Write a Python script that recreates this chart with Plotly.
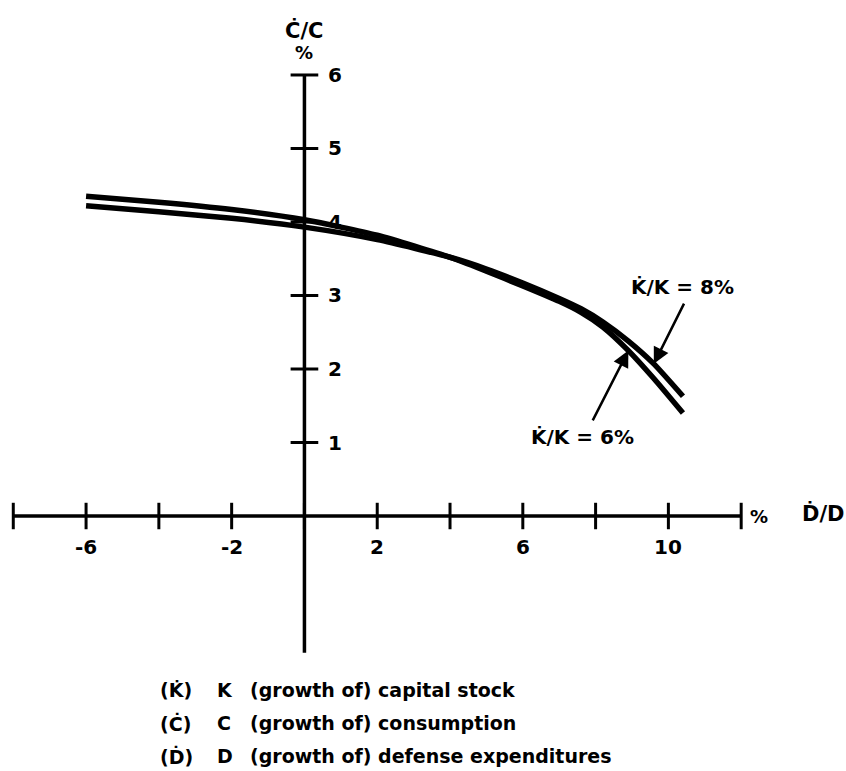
import plotly.graph_objects as go

# Growth of consumption vs. growth of defense expenditures, two capital-growth cases
d_growth = [-6, -4, -2, 0, 2, 4, 5, 6, 7, 7.6, 8.2, 8.9, 9.6, 10.4]
c_growth_k6 = [4.35, 4.27, 4.17, 4.03, 3.82, 3.52, 3.33, 3.13, 2.92, 2.77, 2.57, 2.25, 1.87, 1.40]
c_growth_k8 = [4.22, 4.14, 4.05, 3.93, 3.76, 3.52, 3.36, 3.17, 2.96, 2.82, 2.64, 2.38, 2.07, 1.63]

x_ticks = [-8, -6, -4, -2, 0, 2, 4, 6, 8, 10, 12]
x_tick_labels = {-6: "-6", -2: "-2", 2: "2", 6: "6", 10: "10"}
y_ticks = [1, 2, 3, 4, 5, 6]

legend_rows = [
    ("(K\u0307)", "K", "(growth of) capital stock"),
    ("(\u010a)", "C", "(growth of) consumption"),
    ("(\u1e0a)", "D", "(growth of) defense expenditures"),
]

W, H = 846, 771
FONT = "DejaVu Sans, Liberation Sans, sans-serif"
INK = "black"

fig = go.Figure()

# axes drawn as plain lines crossing at the origin
fig.add_trace(go.Scatter(x=[x_ticks[0], x_ticks[-1]], y=[0, 0], mode="lines",
                         line=dict(color=INK, width=3.5), hoverinfo="skip"))
fig.add_trace(go.Scatter(x=[0, 0], y=[-1.86, y_ticks[-1]], mode="lines",
                         line=dict(color=INK, width=3.5), hoverinfo="skip"))

# tick marks
tx, ty = [], []
for t in x_ticks:
    tx += [t, t, None]
    ty += [-0.18, 0.18, None]
for t in y_ticks:
    tx += [-0.38, 0.38, None]
    ty += [t, t, None]
fig.add_trace(go.Scatter(x=tx, y=ty, mode="lines", line=dict(color=INK, width=3),
                         hoverinfo="skip"))

# the two curves
for ys in (c_growth_k6, c_growth_k8):
    fig.add_trace(go.Scatter(x=d_growth, y=ys, mode="lines",
                             line=dict(color=INK, width=5.5, shape="spline", smoothing=0.6),
                             hoverinfo="skip"))

ann = []
tick_font = dict(family=FONT, size=20, color=INK)
for t, lab in x_tick_labels.items():
    ann.append(dict(x=t, y=-0.42, xref="x", yref="y", text=f"<b>{lab}</b>",
                    showarrow=False, font=tick_font, xanchor="center", yanchor="middle"))
for t in y_ticks:
    ann.append(dict(x=0.58, y=t, xref="x", yref="y", text=f"<b>{t}</b>",
                    showarrow=False, font=tick_font, xanchor="left", yanchor="middle"))

# axis titles
ann.append(dict(x=0, y=6.6, xref="x", yref="y", text="<b>\u010a/C</b>", showarrow=False,
                font=dict(family=FONT, size=21, color=INK), xanchor="center", yanchor="middle"))
ann.append(dict(x=0, y=6.3, xref="x", yref="y", text="<b>%</b>", showarrow=False,
                font=dict(family=FONT, size=18, color=INK), xanchor="center", yanchor="middle"))
ann.append(dict(x=12.2, y=0, xref="x", yref="y", text="<b>%</b>", showarrow=False,
                font=dict(family=FONT, size=18, color=INK), xanchor="left", yanchor="middle"))
ann.append(dict(x=14.25, y=0.03, xref="x", yref="y", text="<b>\u1e0a/D</b>", showarrow=False,
                font=dict(family=FONT, size=21, color=INK), xanchor="center", yanchor="middle"))

# curve labels with arrows pointing at the curves
i6, i8 = d_growth.index(8.9), d_growth.index(9.6)
lab_font = dict(family=FONT, size=20, color=INK)
ann.append(dict(x=d_growth[i8], y=c_growth_k8[i8], ax=10.45, ay=2.91, xref="x", yref="y",
                axref="x", ayref="y", text="", showarrow=True, arrowhead=2, arrowsize=1.3,
                arrowwidth=2.5, arrowcolor=INK))
ann.append(dict(x=10.4, y=3.12, xref="x", yref="y", text="<b>K\u0307/K = 8%</b>",
                showarrow=False, font=lab_font, xanchor="center", yanchor="middle"))
ann.append(dict(x=d_growth[i6], y=c_growth_k6[i6], ax=7.9, ay=1.28, xref="x", yref="y",
                axref="x", ayref="y", text="", showarrow=True, arrowhead=2, arrowsize=1.3,
                arrowwidth=2.5, arrowcolor=INK))
ann.append(dict(x=7.65, y=1.08, xref="x", yref="y", text="<b>K\u0307/K = 6%</b>",
                showarrow=False, font=lab_font, xanchor="center", yanchor="middle"))

# key below the chart
leg_font = dict(family=FONT, size=19, color=INK)
for i, (sym, letter, desc) in enumerate(legend_rows):
    py = 690 + 33 * i
    yp = 1 - py / H
    for px, txt in ((158, sym), (215, letter), (248, desc)):
        ann.append(dict(x=px / W, y=yp, xref="paper", yref="paper", text=f"<b>{txt}</b>",
                        showarrow=False, font=leg_font, xanchor="left", yanchor="middle"))

fig.update_layout(
    width=W, height=H,
    margin=dict(l=0, r=0, t=0, b=0),
    paper_bgcolor="white", plot_bgcolor="white",
    showlegend=False,
    xaxis=dict(range=[-8.365, 14.88], visible=False, fixedrange=True),
    yaxis=dict(range=[-3.469, 7.02], visible=False, fixedrange=True),
    annotations=ann,
)

fig.write_html("out.html")
